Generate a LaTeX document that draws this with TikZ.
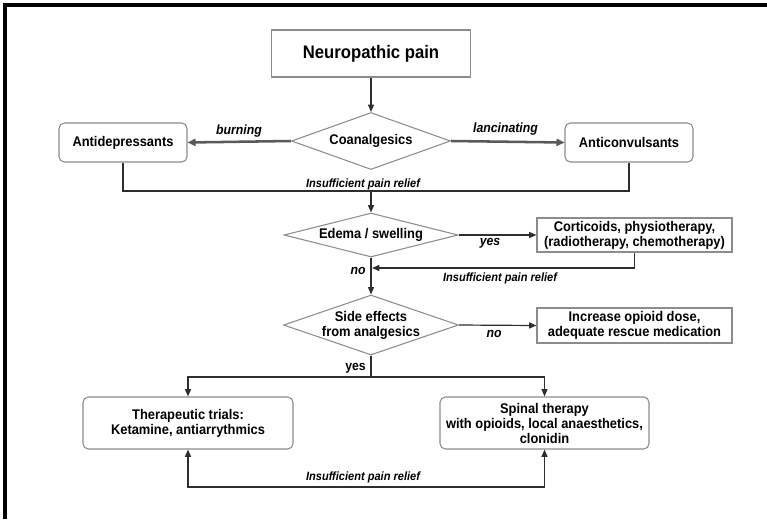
\documentclass[tikz,border=0pt]{standalone}
\usepackage{fontspec}
\setmainfont{Liberation Sans}[FakeStretch=0.92]
\usetikzlibrary{shapes.geometric,arrows.meta}
\definecolor{boxgray}{HTML}{8C8C8C}
\definecolor{linegray}{HTML}{2E2E2E}
\begin{document}
\begin{tikzpicture}[x=0.75pt,y=-0.75pt,
  box/.style={draw=boxgray, line width=0.8pt, fill=white, inner sep=0pt, align=center,
    font=\bfseries\fontsize{10.5}{11.25}\selectfont},
  rbox/.style={box, rounded corners=4pt},
  dia/.style={draw=boxgray, line width=0.8pt, diamond, inner sep=0pt, aspect=2.8},
  txt/.style={inner sep=0pt, align=center, font=\bfseries\fontsize{10.5}{11.25}\selectfont},
  lab/.style={inner sep=0pt, font=\bfseries\itshape\fontsize{10}{12}\selectfont},
  uplab/.style={inner sep=0pt, font=\bfseries\fontsize{10}{12}\selectfont},
  small/.style={inner sep=0pt, font=\bfseries\itshape\fontsize{9}{10}\selectfont},
  conn/.style={draw=linegray, line width=0.9pt},
  arr/.style={conn, -{Triangle[length=5.5pt,width=4.5pt]}},
  heavyarr/.style={draw=black!65, line width=1.9pt, -{Triangle[length=6pt,width=5.5pt]}},
  tips/.style={conn, {Triangle[length=5.5pt,width=4.5pt]}-{Triangle[length=5.5pt,width=4.5pt]}}
]
\useasboundingbox (0,0) rectangle (767,519);
% frame (top and left edges)
\draw[line width=2.4pt, black] (5,519) -- (5,5) -- (767,5);

% nodes
\node[box, minimum width=199*0.75pt, minimum height=47*0.75pt,
  font=\bfseries\fontsize{13.6}{16}\selectfont] (np) at (371,53.5) {Neuropathic pain};
\node[dia, minimum width=159*0.75pt, minimum height=57*0.75pt] (coan) at (371,141) {};
\node[txt] (coant) at (coan) {Coanalgesics};
\node[rbox, minimum width=128*0.75pt, minimum height=39*0.75pt] (antidep) at (123,142.5) {Antidepressants};
\node[rbox, minimum width=128*0.75pt, minimum height=39*0.75pt] (anticonv) at (629,142.5) {Anticonvulsants};

\node[dia, minimum width=174*0.75pt, minimum height=44*0.75pt] (edema) at (371,235) {};
\node[txt] (edemat) at (edema) {Edema / swelling};
\node[box, minimum width=195*0.75pt, minimum height=34*0.75pt] (cort) at (634.5,235)
  {Corticoids, physiotherapy,\\(radiotherapy, chemotherapy)};

\node[dia, minimum width=175*0.75pt, minimum height=60*0.75pt] (side) at (371,325) {};
\node[txt] (sidet) at (side) {Side effects\\from analgesics};
\node[box, minimum width=195*0.75pt, minimum height=35*0.75pt] (incr) at (634.5,325.5)
  {Increase opioid dose,\\adequate rescue medication};

\node[rbox, minimum width=210*0.75pt, minimum height=52*0.75pt] (therap) at (188,423)
  {Therapeutic trials:\\Ketamine, antiarrythmics};
\node[rbox, minimum width=209*0.75pt, minimum height=52*0.75pt] (spinal) at (544.5,423)
  {Spinal therapy\\with opioids, local anaesthetics,\\clonidin};

% junction coordinates
\coordinate (jl) at (123,191);
\coordinate (jr) at (629,191);
\coordinate (jm) at (371,191);
\coordinate (c1) at (634.5,268);
\coordinate (c2) at (372,268);
\coordinate (ts) at (371,377);
\coordinate (bl) at (188,487);
\coordinate (br) at (544.5,487);

% connectors
\draw[arr] (np.south) -- (coan.north);
\draw[heavyarr] (coan.west) -- (antidep.east);
\draw[heavyarr] (coan.east) -- (anticonv.west);
\draw[conn] (antidep.south) -- (jl) -- (jr) -- (anticonv.south);
\draw[arr] (jm) -- (edema.north);
\draw[arr] (edema.east) -- (cort.west);
\draw[arr] (cort.south) -- (c1) -- (c2);
\draw[arr] (edema.south) -- (side.north);
\draw[arr] (side.east) -- (incr.west);
\draw[conn] (side.south) -- (ts);
\draw[arr] (ts) -| (therap.north);
\draw[arr] (ts) -| (spinal.north);
\draw[tips] (therap.south) -- (bl) -- (br) -- (spinal.south);

% labels
\node[lab] (lburn) at (239,131) {burning};
\node[lab] (llanc) at (505.5,129.5) {lancinating};
\node[small] (lins1) at (363,184) {Insufficient pain relief};
\node[lab] (lyes1) at (490,243.5) {yes};
\node[small] (lins2) at (500,278) {Insufficient pain relief};
\node[lab] (lno1) at (358,271) {no};
\node[lab] (lno2) at (494,334) {no};
\node[uplab] (lyes2) at (355.5,368) {yes};
\node[small] (lins3) at (363,477) {Insufficient pain relief};
\end{tikzpicture}
\end{document}
